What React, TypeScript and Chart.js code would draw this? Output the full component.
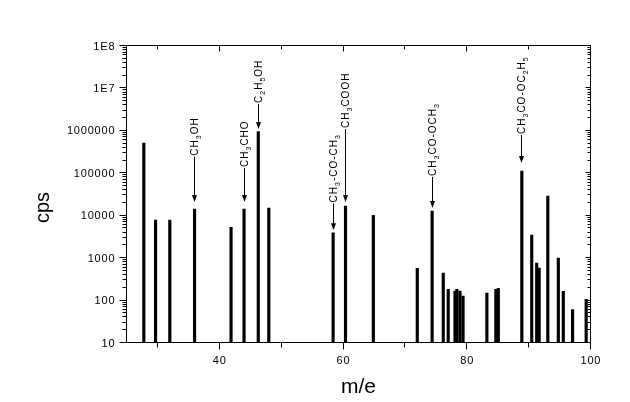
import React, { useEffect, useRef } from "react";
import { Chart, registerables } from "chart.js";

Chart.register(...registerables);

// ---- data ----
const massValues = [
  27.8, 29.7, 32.0, 36.0, 41.9, 44.0, 46.3, 48.0, 58.4, 60.4, 64.9, 72.0, 74.4,
  76.2, 77.0, 78.1, 78.4, 78.9, 79.4, 83.25, 84.7, 85.1, 88.9, 90.5, 91.3, 91.7,
  93.1, 94.8, 95.6, 97.1, 99.3,
];
const cpsValues = [
  500000, 7700, 7700, 13900, 5200, 13900, 940000, 14700, 3840, 16400, 10000, 560,
  12500, 430, 180, 163, 180, 163, 124, 146, 180, 189, 110000, 3400, 740, 570,
  28300, 970, 161, 60, 104,
];

const yTickValues = [10, 100, 1000, 10000, 100000, 1000000, 1e7, 1e8];
const yTickLabels = ["10", "100", "1000", "10000", "100000", "1000000", "1E7", "1E8"];
const xMajorTicks = [40, 60, 80, 100];
const xMajorLabels = ["40", "60", "80", "100"];
const xMinorTicks = [30, 50, 70, 90];

const annotationMass = [36.0, 44.0, 46.3, 58.4, 60.4, 74.4, 88.9];
const annotationLabels = [
  "CH_3OH",
  "CH_3CHO",
  "C_2H_5OH",
  "CH_3-CO-CH_3",
  "CH_3COOH",
  "CH_3CO-OCH_3",
  "CH_3CO-OC_2H_5",
];
const annotationTextBase = [2.4e5, 1.3e5, 4.2e6, 1.9e4, 1.08e6, 8e4, 7.8e5];
const annotationArrowTip = [2.04e4, 2.04e4, 1.08e6, 4440, 2.04e4, 1.47e4, 1.7e5];

const xTitle = "m/e";
const yTitle = "cps";

const FONT = "Arial, 'Liberation Sans', sans-serif";

function drawSpaced(
  ctx: CanvasRenderingContext2D,
  text: string,
  x: number,
  y: number,
  align: "left" | "right" | "center",
  spacing: number
) {
  const chars = text.split("");
  const widths = chars.map((c) => ctx.measureText(c).width);
  const total = widths.reduce((a, b) => a + b, 0) + spacing * (chars.length - 1);
  let cx = align === "right" ? x - total : align === "center" ? x - total / 2 : x;
  ctx.textAlign = "left";
  chars.forEach((c, i) => {
    ctx.fillText(c, cx, y);
    cx += widths[i] + spacing;
  });
}

function parseLabel(s: string) {
  const segs: { ch: string; sub: boolean }[] = [];
  for (let i = 0; i < s.length; i++) {
    if (s[i] === "_" && i + 1 < s.length) {
      segs.push({ ch: s[i + 1], sub: true });
      i++;
    } else segs.push({ ch: s[i], sub: false });
  }
  return segs;
}

const originPlugin = {
  id: "originAxes",
  afterDraw(chart: any) {
    const ctx: CanvasRenderingContext2D = chart.ctx;
    const xs = chart.scales.x;
    const ys = chart.scales.y;
    const { left, right, top, bottom } = chart.chartArea;
    ctx.save();
    ctx.strokeStyle = "#000";
    ctx.fillStyle = "#000";
    ctx.lineWidth = 1;

    // frame
    ctx.strokeRect(left, top, right - left, bottom - top);

    // y ticks (log, with minor ticks)
    ctx.beginPath();
    for (let e = 1; e <= 8; e++) {
      for (let m = 1; m <= 9; m++) {
        const v = m * Math.pow(10, e);
        if (v > 1e8 + 1) break;
        const py = Math.floor(ys.getPixelForValue(v)) + 0.5;
        const major = m === 1;
        const lo = major ? 7 : 4;
        const ri = major ? 5 : 3;
        ctx.moveTo(left - lo, py);
        ctx.lineTo(left, py);
        ctx.moveTo(right, py);
        ctx.lineTo(right - ri, py);
      }
    }
    // x ticks
    xMajorTicks.forEach((v) => {
      const px = Math.floor(xs.getPixelForValue(v)) + 0.5;
      ctx.moveTo(px, bottom);
      ctx.lineTo(px, bottom + 7);
      if (v < 100) {
        ctx.moveTo(px, top);
        ctx.lineTo(px, top + 6);
      }
    });
    xMinorTicks.forEach((v) => {
      const px = Math.floor(xs.getPixelForValue(v)) + 0.5;
      ctx.moveTo(px, bottom);
      ctx.lineTo(px, bottom + 5);
      ctx.moveTo(px, top);
      ctx.lineTo(px, top + 4);
    });
    ctx.stroke();

    // tick labels
    ctx.font = `11px ${FONT}`;
    ctx.textBaseline = "alphabetic";
    yTickValues.forEach((v, i) => {
      const py = ys.getPixelForValue(v);
      drawSpaced(ctx, yTickLabels[i], left - 12, py + 4, "right", 0.8);
    });
    xMajorTicks.forEach((v, i) => {
      const px = xs.getPixelForValue(v);
      drawSpaced(ctx, xMajorLabels[i], px, bottom + 21, "center", 0.8);
    });

    // axis titles
    ctx.font = `21px ${FONT}`;
    ctx.textAlign = "center";
    ctx.fillText(xTitle, (left + right) / 2, 393);
    ctx.save();
    ctx.translate(49, 207.5);
    ctx.rotate(-Math.PI / 2);
    ctx.font = `20px ${FONT}`;
    ctx.fillText(yTitle, 0, 0);
    ctx.restore();

    // annotations
    annotationLabels.forEach((lab, i) => {
      const ax = Math.floor(xs.getPixelForValue(annotationMass[i])) + 0.5;
      const baseY = ys.getPixelForValue(annotationTextBase[i]);
      const tipY = ys.getPixelForValue(annotationArrowTip[i]);
      ctx.beginPath();
      ctx.moveTo(ax, baseY);
      ctx.lineTo(ax, tipY - 5);
      ctx.stroke();
      ctx.beginPath();
      ctx.moveTo(ax - 2.5, tipY - 7);
      ctx.lineTo(ax + 2.5, tipY - 7);
      ctx.lineTo(ax, tipY);
      ctx.closePath();
      ctx.fill();

      ctx.save();
      ctx.translate(ax, baseY - 1);
      ctx.rotate(-Math.PI / 2);
      ctx.textAlign = "left";
      ctx.textBaseline = "alphabetic";
      let cx = 0;
      parseLabel(lab).forEach((sg) => {
        ctx.font = sg.sub ? `7px ${FONT}` : `10px ${FONT}`;
        ctx.fillText(sg.ch, cx, sg.sub ? 6.5 : 3.6);
        cx += ctx.measureText(sg.ch).width + 1;
      });
      ctx.restore();
    });

    ctx.restore();
  },
};

export default function App() {
  const ref = useRef<HTMLCanvasElement>(null);
  useEffect(() => {
    const canvas = ref.current;
    if (!canvas) return;
    const chart = new Chart(canvas, {
      type: "bar",
      data: {
        datasets: [
          {
            data: massValues.map((m, i) => ({ x: m, y: cpsValues[i] })),
            backgroundColor: "#000",
            borderWidth: 0,
            barThickness: 2.5,
          },
        ],
      },
      options: {
        animation: false,
        responsive: true,
        maintainAspectRatio: false,
        events: [],
        layout: { padding: { left: 126.5, top: 45.5, right: 39.5, bottom: 59.5 } },
        plugins: {
          legend: { display: false },
          tooltip: { enabled: false },
          title: { display: false },
        },
        scales: {
          x: { type: "linear", min: 25, max: 100, offset: false, grid: { offset: false }, display: false },
          y: { type: "logarithmic", min: 10, max: 1e8, display: false },
        },
      } as any,
      plugins: [originPlugin],
    });
    return () => chart.destroy();
  }, []);
  return (
    <div style={{ position: "fixed", left: 0, top: 0, width: 630, height: 402, background: "#fff" }}>
      <canvas ref={ref} />
    </div>
  );
}
